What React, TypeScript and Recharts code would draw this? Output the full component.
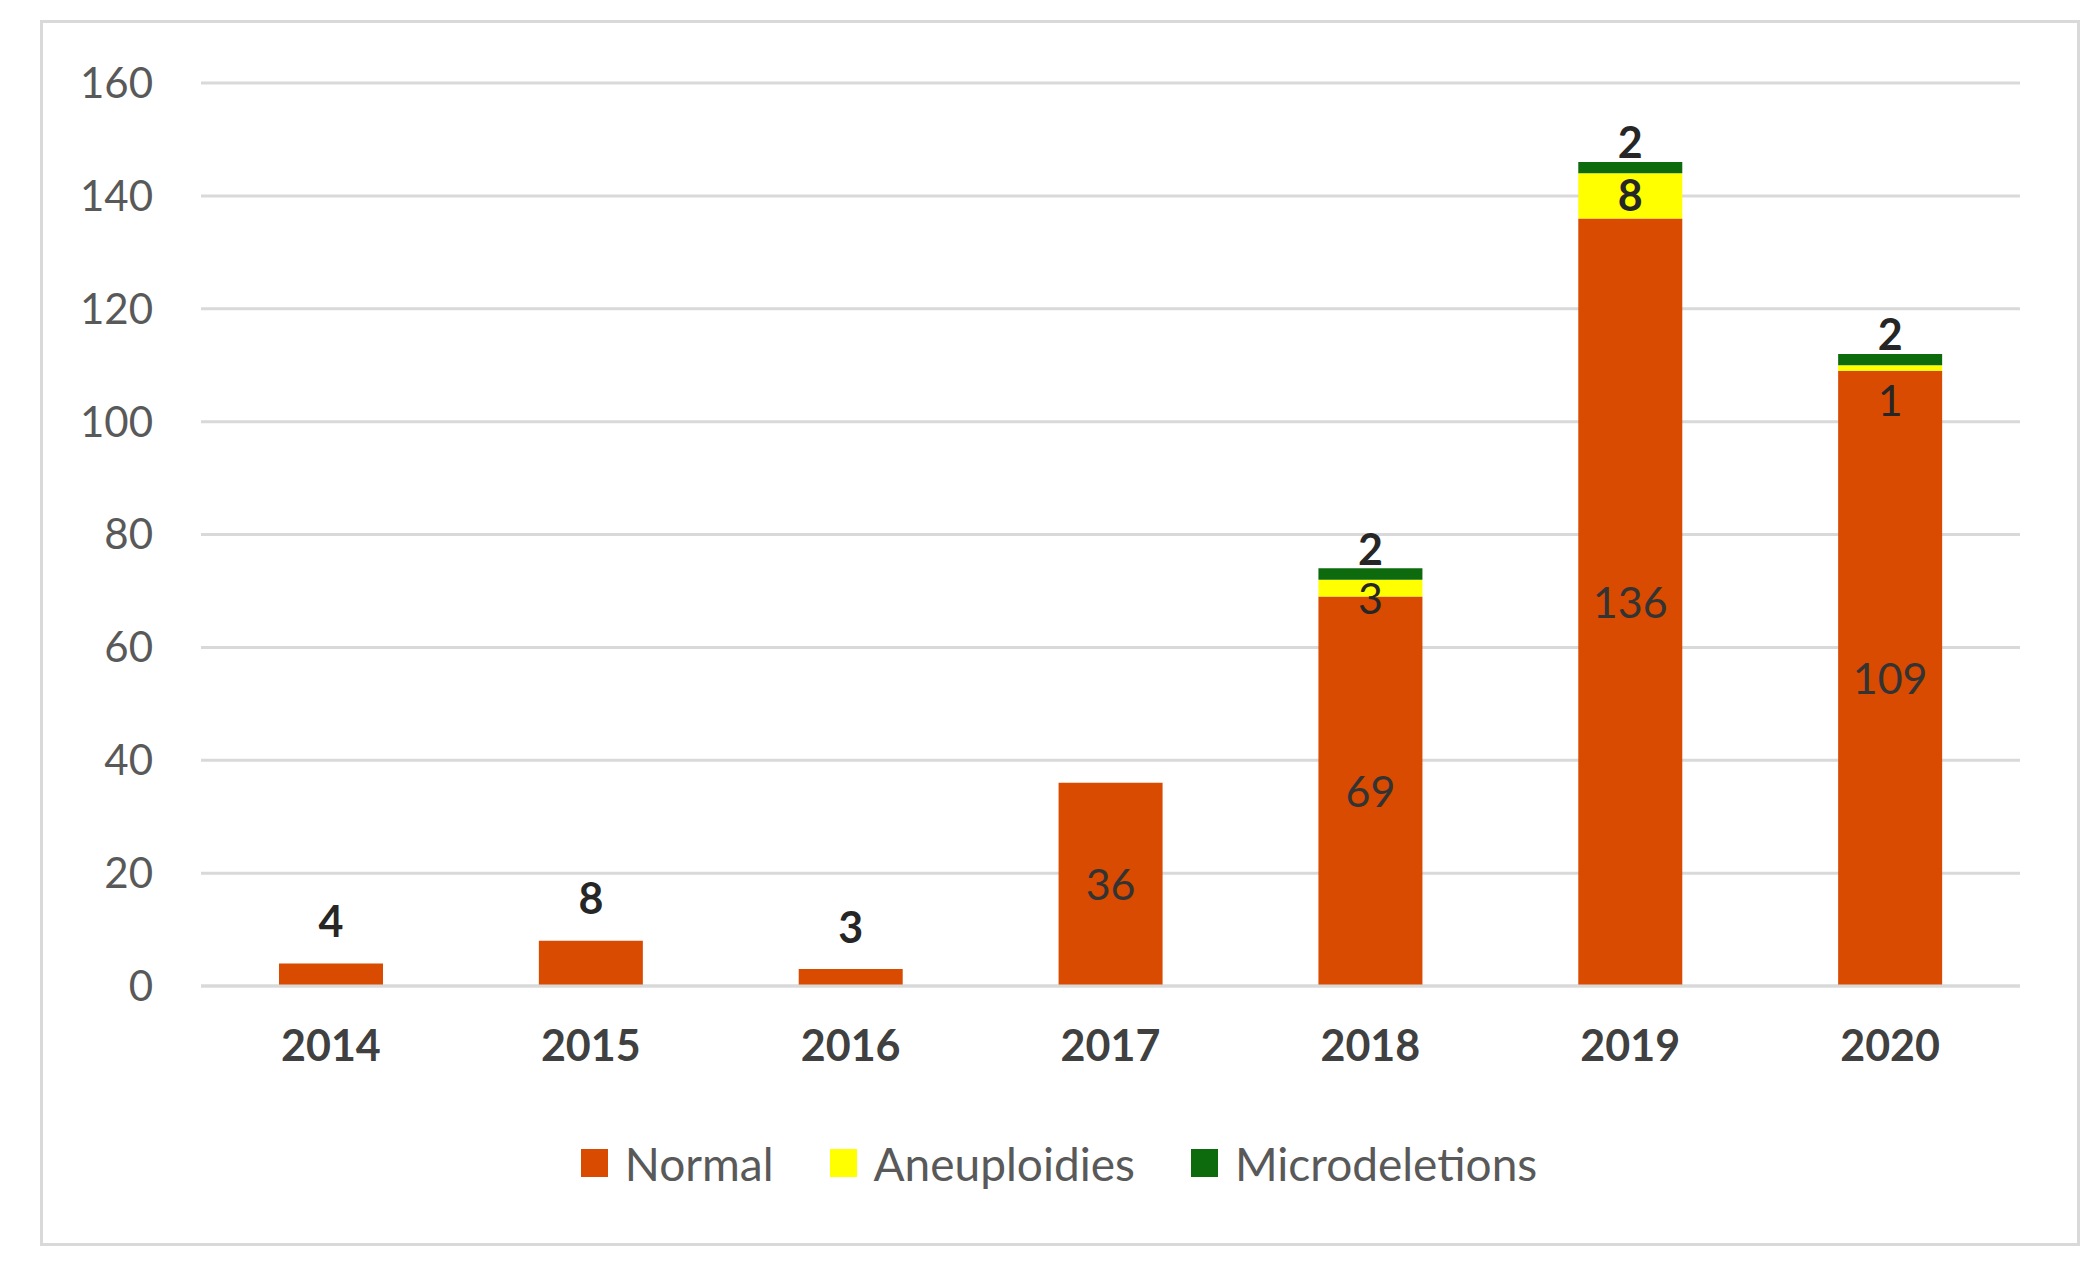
import React from 'react';
import { BarChart, Bar, XAxis, YAxis, CartesianGrid, LabelList } from 'recharts';

const years = ['2014', '2015', '2016', '2017', '2018', '2019', '2020'];
const normal = [4, 8, 3, 36, 69, 136, 109];
const aneuploidies = [0, 0, 0, 0, 3, 8, 1];
const microdeletions = [0, 0, 0, 0, 2, 2, 2];
const yTicks = [0, 20, 40, 60, 80, 100, 120, 140, 160];

const seriesNames = ['Normal', 'Aneuploidies', 'Microdeletions'];
const seriesColors = ['#D84B00', '#FFFF00', '#0D6B0D'];

const data = years.map((y, i) => ({
  year: y,
  normal: normal[i],
  aneuploidies: aneuploidies[i],
  microdeletions: microdeletions[i],
}));

const FONT = 'Lato, "Open Sans", sans-serif';

const NormalLabel = (props: any) => {
  const { x, y, width, height, value } = props;
  if (!value) return null;
  const cx = Number(x) + Number(width) / 2;
  if (Number(height) < 50) {
    return (
      <text x={cx} y={Number(y) - 42} dy="0.36em" textAnchor="middle" fontFamily={FONT} fontSize={43} fontWeight={700} fill="#262626">
        {value}
      </text>
    );
  }
  return (
    <text x={cx} y={Number(y) + Number(height) / 2} dy="0.36em" textAnchor="middle" fontFamily={FONT} fontSize={43} fill="#333333">
      {value}
    </text>
  );
};

const AneuLabel = (props: any) => {
  const { x, y, width, height, value } = props;
  if (!value) return null;
  const cx = Number(x) + Number(width) / 2;
  const h = Number(height);
  let cy = Number(y) + h / 2;
  let bold = true;
  if (h < 12) {
    cy = Number(y) + h + 30;
    bold = false;
  } else if (h < 25) {
    cy += 10;
    bold = false;
  }
  return (
    <text x={cx} y={cy} dy="0.36em" textAnchor="middle" fontFamily={FONT} fontSize={43} fontWeight={bold ? 700 : 400} fill="#262626">
      {value}
    </text>
  );
};

const MicroLabel = (props: any) => {
  const { x, y, width, value } = props;
  if (!value) return null;
  const cx = Number(x) + Number(width) / 2;
  return (
    <text x={cx} y={Number(y) - 19} dy="0.36em" textAnchor="middle" fontFamily={FONT} fontSize={43} fontWeight={700} fill="#262626">
      {value}
    </text>
  );
};

const LegendBlock = () => (
  <div
    style={{
      position: 'absolute',
      left: 9,
      top: 1135,
      width: 2100,
      height: 56,
      display: 'flex',
      justifyContent: 'center',
      alignItems: 'center',
      fontFamily: FONT,
      fontSize: 46,
      color: '#595959',
    }}
  >
    {seriesNames.map((n, i) => (
      <div key={n} style={{ display: 'flex', alignItems: 'center', marginRight: i < seriesNames.length - 1 ? 56 : 0 }}>
        <div style={{ width: 27, height: 28, background: seriesColors[i], marginRight: 17 }} />
        <span>{n}</span>
      </div>
    ))}
  </div>
);

export default function App() {
  return (
    <div style={{ position: 'absolute', left: 0, top: 0, width: 2100, height: 1273, background: '#fff' }}>
      <div
        style={{
          position: 'absolute',
          left: 40,
          top: 20,
          width: 2040,
          height: 1226,
          border: '3px solid #D9D9D9',
          boxSizing: 'border-box',
        }}
      />
      <div style={{ position: 'absolute', left: 0, top: 0 }}>
        <BarChart
          width={2100}
          height={1273}
          data={data}
          margin={{ top: 83, right: 80, bottom: 257, left: 0 }}
          barSize={104}
        >
          <CartesianGrid vertical={false} stroke="#D9D9D9" strokeWidth={3} />
          <XAxis
            dataKey="year"
            height={30}
            axisLine={{ stroke: '#D9D9D9', strokeWidth: 3 }}
            tickLine={false}
            tickSize={0}
            tickMargin={44}
            tick={{ fontFamily: FONT, fontSize: 43, fontWeight: 700, fill: '#404040' }}
            interval={0}
          />
          <YAxis
            width={201}
            domain={[0, 160]}
            ticks={yTicks}
            axisLine={false}
            tickLine={false}
            tickSize={0}
            tickMargin={48}
            tick={{ fontFamily: FONT, fontSize: 42, fill: '#595959' }}
            interval={0}
          />
          <Bar dataKey="normal" name="Normal" stackId="a" fill={seriesColors[0]} isAnimationActive={false}>
            <LabelList dataKey="normal" content={<NormalLabel />} />
          </Bar>
          <Bar dataKey="aneuploidies" name="Aneuploidies" stackId="a" fill={seriesColors[1]} isAnimationActive={false}>
            <LabelList dataKey="aneuploidies" content={<AneuLabel />} />
          </Bar>
          <Bar dataKey="microdeletions" name="Microdeletions" stackId="a" fill={seriesColors[2]} isAnimationActive={false}>
            <LabelList dataKey="microdeletions" content={<MicroLabel />} />
          </Bar>
        </BarChart>
      </div>
      <LegendBlock />
    </div>
  );
}
